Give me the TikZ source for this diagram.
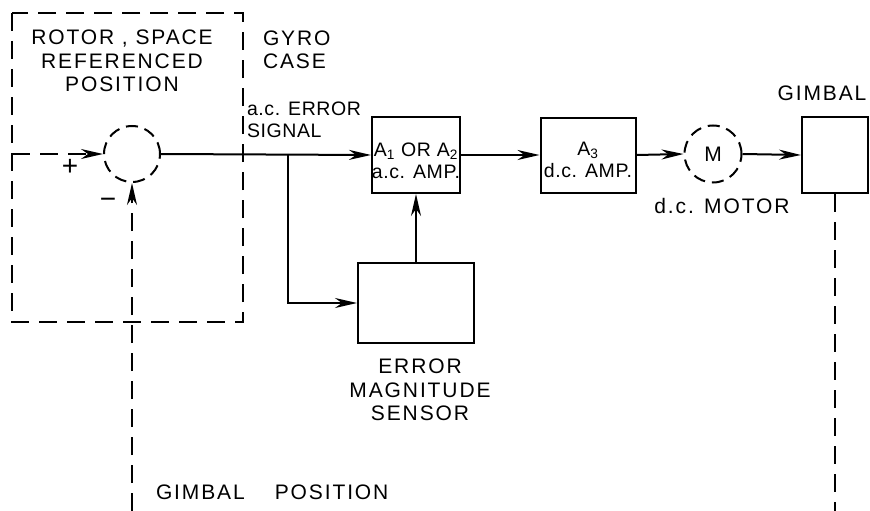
\documentclass[tikz,border=0pt]{standalone}
\usepackage{fontspec}
\setmainfont{Liberation Sans}
\newfontfamily\hand[LetterSpace=9]{Liberation Sans}
\newfontfamily\handtight[LetterSpace=3]{Liberation Sans}
\usetikzlibrary{arrows.meta}
\begin{document}
\begin{tikzpicture}[x=1pt,y=-1pt,
  line width=2pt,
  blk/.style={draw, rectangle, inner sep=0pt},
  junc/.style={draw, circle, dash pattern=on 12pt off 7pt, minimum size=56pt, inner sep=0pt},
  sig/.style={-{Stealth[length=22pt,width=10pt,inset=7pt]}},
  dl/.style={dash pattern=on 18pt off 10pt},
  lbl/.style={font=\hand\fontsize{21}{23.5}\selectfont, inner sep=0pt, align=center},
  sml/.style={font=\handtight\fontsize{19.5}{22}\selectfont, inner sep=0pt, align=center}
]
\fill[white] (0,0) rectangle (870,511);
\useasboundingbox (0,0) rectangle (870,511);

% gyro case boundary
\draw[dl] (12,13) rectangle (243,322);

% blocks
\node[junc] (sum) at (132,154) {};
\node[blk, minimum width=88pt, minimum height=76pt] (a1) at (416,155) {};
\node[blk, minimum width=95pt, minimum height=75pt] (a3) at (588,155) {};
\node[junc, minimum size=57pt] (mot) at (713,154) {};
\node[blk, minimum width=66pt, minimum height=76pt] (gim) at (835,155) {};
\node[blk, minimum width=116pt, minimum height=80pt] (sens) at (416,303) {};

% texts
\node[lbl] (trot) at (122,61) {ROTOR , SPACE\\REFERENCED\\POSITION};
\node[lbl, anchor=west, align=left] (tgyro) at (262,50) {GYRO\\CASE};
\node[sml, anchor=west, align=left] (terr) at (246,120) {a.c. ERROR\\SIGNAL};
\node[sml] (ta1) at (416,161) {A\textsubscript{1} OR A\textsubscript{2}\\a.c. AMP.};
\node[sml] (ta3) at (588,160) {A\textsubscript{3}\\d.c. AMP.};
\node[lbl] (tm) at (mot.center) {M};
\node[lbl] (tmot) at (722,206) {d.c. MOTOR};
\node[lbl] (tgim) at (822,93) {GIMBAL};
\node[lbl] (tsens) at (420,390) {ERROR\\MAGNITUDE\\SENSOR};
\node[lbl, anchor=west] (tgp) at (155,492) {GIMBAL\hspace{30pt}POSITION};
\node[lbl, font=\fontsize{28}{28}\selectfont] (tplus) at (70,167) {+};
\node[lbl, font=\fontsize{28}{28}\selectfont] (tminus) at (108,203) {\textminus};

% connectors
\coordinate (inL) at (12,154);
\coordinate (fbB) at (132,511);
\coordinate (br) at (288,154);
\coordinate (gimB) at (835,511);

\draw[dl, sig] (inL) -- (sum.west);
\draw[dl, sig] (fbB) -- (sum.south);
\draw[sig] (sum.east) -- (a1.west);
\draw[sig] (br) |- (sens.west);
\draw[sig] (sens.north) -- (a1.south);
\draw[sig] (a1.east) -- (a3.west);
\draw[sig] (a3.east) -- (mot.west);
\draw[sig] (mot.east) -- (gim.west);
\draw[dl] (gim.south) -- (gimB);
\end{tikzpicture}
\end{document}
